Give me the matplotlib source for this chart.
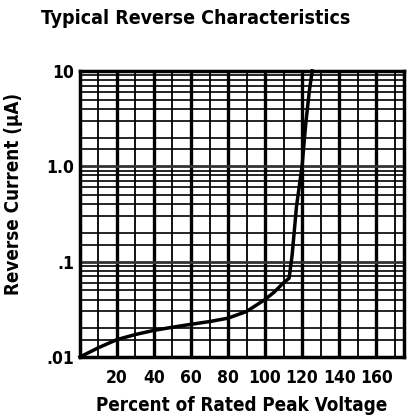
import matplotlib
matplotlib.use('Agg')
import matplotlib.pyplot as plt
from matplotlib.ticker import FixedLocator, LogLocator, NullFormatter
import numpy as np

# curve
volt = [0, 10, 20, 30, 40, 50, 60, 70, 80, 90, 100, 105, 110, 113, 114.6, 117, 120, 122, 124, 125.5]
curr = [0.010, 0.0125, 0.0152, 0.0172, 0.019, 0.0205, 0.022, 0.0235, 0.0255, 0.030, 0.040,
        0.048, 0.060, 0.067, 0.115, 0.38, 1.0, 2.8, 6.3, 10]

xticks = [20, 40, 60, 80, 100, 120, 140, 160]
yticks = [0.01, 0.1, 1.0, 10]
ylabels = ['.01', '.1', '1.0', '10']

plt.rcParams['font.family'] = ['DejaVu Sans']
plt.rcParams['font.stretch'] = 'condensed'
plt.rcParams['font.weight'] = 'bold'

fig = plt.figure(figsize=(4.10, 4.17), dpi=100)
ax = fig.add_axes([0.195, 0.144, 0.79, 0.686])

ax.set_yscale('log')
ax.set_xlim(0, 175)
ax.set_ylim(0.01, 10)

ax.xaxis.set_major_locator(FixedLocator(xticks))
ax.xaxis.set_minor_locator(FixedLocator([10, 30, 50, 70, 90, 110, 130, 150, 170]))
ax.yaxis.set_major_locator(FixedLocator(yticks))
ax.yaxis.set_minor_locator(LogLocator(base=10, subs=[1.5, 2, 3, 4, 5, 6, 7, 8, 9]))
ax.yaxis.set_minor_formatter(NullFormatter())
ax.set_xticklabels([str(v) for v in xticks])
ax.set_yticklabels(ylabels)

ax.grid(True, axis='x', which='major', color='black', lw=2.4)
ax.grid(True, axis='x', which='minor', color='black', lw=1.3)
ax.grid(True, axis='y', which='minor', color='black', lw=1.2)
ax.grid(True, axis='y', which='major', color='#333333', lw=2.0)
ax.set_axisbelow(True)

ax.tick_params(which='both', length=0, labelsize=12.5)
ax.tick_params(axis='x', pad=9)
ax.tick_params(axis='y', pad=4)
for lab in ax.get_xticklabels() + ax.get_yticklabels():
    lab.set_fontweight('bold')
    lab.set_fontstretch('condensed')
for s in ax.spines.values():
    s.set_linewidth(2.5)

ax.plot(volt, curr, color='black', lw=2.5, zorder=5, clip_on=False)

ax.set_xlabel('Percent of Rated Peak Voltage', fontsize=13.5, fontweight='bold',
              fontstretch='condensed', labelpad=6)
ax.set_ylabel('Reverse Current (\u00b5A)', fontsize=13.5, fontweight='bold',
              fontstretch='condensed')
ax.yaxis.set_label_coords(-0.175, 0.57)
fig.text(0.478, 0.955, 'Typical Reverse Characteristics', ha='center', va='center',
         fontsize=14, fontweight='bold', fontstretch='condensed')

fig.savefig('out.png', dpi=100)
